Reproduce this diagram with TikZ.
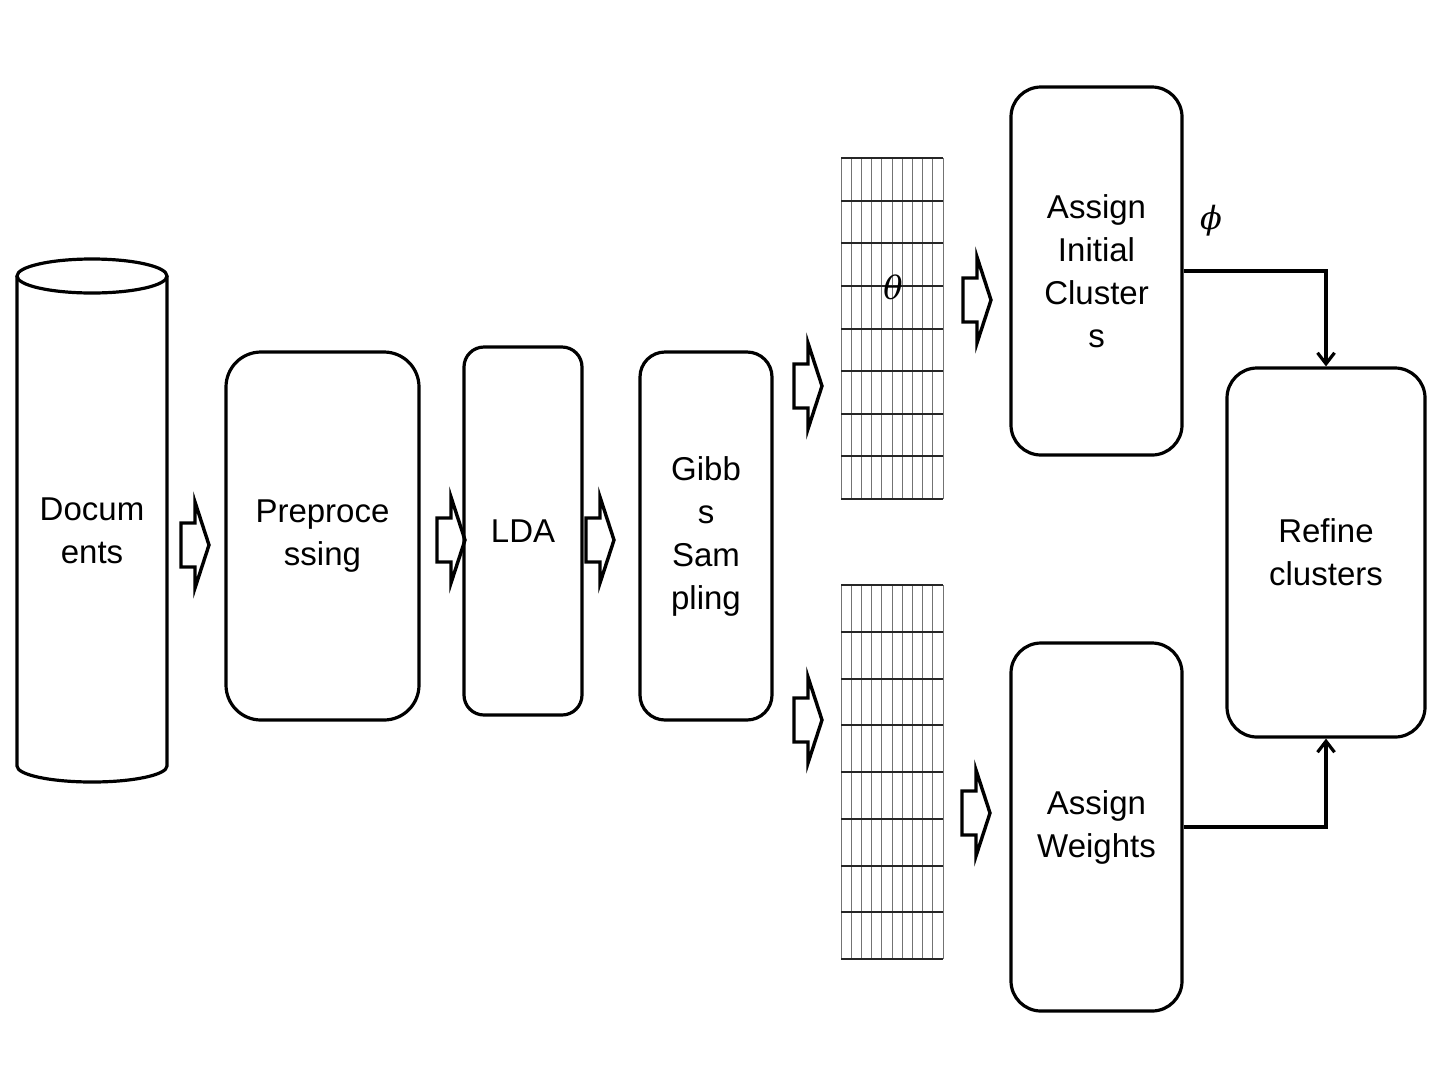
\documentclass[tikz,border=0pt]{standalone}
\usepackage{fontspec}
\setmainfont{Liberation Sans}
\newfontfamily\grk{DejaVu Serif}
\usetikzlibrary{arrows.meta}
\tikzset{
  box/.style={draw, line width=3.2pt, align=center, inner sep=0pt,
    font=\fontsize{33}{43}\selectfont},
  lbl/.style={font=\fontsize{33}{43}\selectfont, inner sep=0pt},
  grklbl/.style={font=\grk\itshape\fontsize{32}{40}\selectfont, inner sep=0pt},
  conn/.style={line width=3.2pt, -{Straight Barb[length=11pt,width=17pt,line width=3.2pt]}},
  pics/barrow/.style={code={
    \draw[line width=3.4pt, line join=miter]
      (0,-22) -- (14,-22) -- (14,-43) -- (28,0) -- (14,43) -- (14,22) -- (0,22) -- cycle;}}
}
\newcommand{\mygrid}[4]{% x0 y0 y1 rows
  \foreach \i in {0,...,10} {
    \draw[black!55, line width=1pt] ({#1+\i*10.2},#2) -- ({#1+\i*10.2},#3);
  }
  \foreach \j in {0,...,#4} {
    \draw[black!85, line width=2pt] (#1,{#2+\j*(#3-#2)/#4}) -- ({#1+102},{#2+\j*(#3-#2)/#4});
  }
}
\begin{document}
\begin{tikzpicture}[x=1pt,y=-1pt]
\useasboundingbox (0,0) rectangle (1440,1080);
% cylinder
\draw[line width=3.2pt] (17,276) -- (17,766) arc[start angle=180, end angle=0, x radius=75, y radius=16] -- (167,276);
\draw[line width=3.2pt] (92,276) ellipse[x radius=75, y radius=17];
\node[lbl, align=center] (docs) at (92,531) {Docum\\ents};
% boxes
\node[box, rounded corners=35pt, minimum width=193pt, minimum height=368pt] (pre) at (322.5,536) {Preproce\\ssing};
\node[box, rounded corners=20pt, minimum width=118pt, minimum height=368pt] (lda) at (523,531) {LDA};
\node[box, rounded corners=25pt, minimum width=132pt, minimum height=368pt] (gibbs) at (706,536) {Gibb\\s\\Sam\\pling};
\node[box, rounded corners=30pt, minimum width=171pt, minimum height=368pt] (aic) at (1096.5,271) {Assign\\Initial\\Cluster\\s};
\node[box, rounded corners=30pt, minimum width=171pt, minimum height=368pt] (aw) at (1096.5,827) {Assign\\Weights};
\node[box, rounded corners=30pt, minimum width=198pt, minimum height=369pt] (ref) at (1326,552.5) {Refine\\clusters};
% block arrows
\pic at (181,545) {barrow};
\pic at (437,540) {barrow};
\pic at (586,540) {barrow};
\pic at (794,386) {barrow};
\pic at (794,720) {barrow};
\pic at (963,300) {barrow};
\pic at (962,813) {barrow};
% grids
\mygrid{841}{158}{499}{8}
\mygrid{841}{585}{959}{8}
\node[grklbl] (theta) at (893,287) {θ};
\node[grklbl] (phi) at (1211,221) {ϕ};
% connectors
\draw[conn] (aic.east) -| (ref.north);
\draw[conn] (aw.east) -| (ref.south);
\end{tikzpicture}
\end{document}
